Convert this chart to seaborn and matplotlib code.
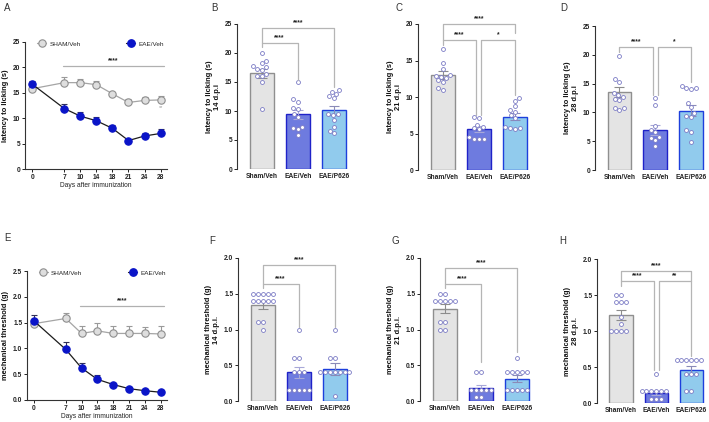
import numpy as np
import pandas as pd
import matplotlib
matplotlib.use('Agg')
import matplotlib.pyplot as plt
import seaborn as sns
from matplotlib.lines import Line2D
from matplotlib.ticker import FormatStrFormatter

# ---- time course data (A, E) ----
days = [0, 7, 10, 14, 18, 21, 24, 28]
day_pos = [0, 2, 3, 4, 5, 6, 7, 8]

lat_sham = [15.8, 17.0, 17.0, 16.6, 14.8, 13.1, 13.5, 13.6]
lat_sham_sem = [0.5, 1.1, 0.7, 0.8, 0.3, 0.7, 0.6, 0.7]
lat_eae = [16.7, 11.9, 10.4, 9.5, 8.0, 5.6, 6.5, 7.0]
lat_eae_sem = [0.7, 0.9, 0.8, 0.8, 0.6, 0.2, 0.6, 0.8]

mech_sham = [1.48, 1.58, 1.29, 1.34, 1.29, 1.29, 1.29, 1.28]
mech_sham_sem = [0.05, 0.10, 0.15, 0.16, 0.15, 0.15, 0.13, 0.16]
mech_eae = [1.53, 0.98, 0.62, 0.40, 0.30, 0.22, 0.18, 0.15]
mech_eae_sem = [0.12, 0.15, 0.09, 0.08, 0.03, 0.02, 0.02, 0.02]

# ---- bar data (B-D, F-H) ----
groups = ['Sham/Veh', 'EAE/Veh', 'EAE/P626']

b_means = [16.5, 9.4, 10.1]
b_sems = [0.8, 0.8, 0.8]
b_sham = [20.0, 18.6, 18.2, 17.8, 17.5, 17.3, 17.0, 16.4, 16.0, 16.1, 15.0, 10.3]
b_eae = [15.0, 12.0, 11.6, 10.6, 10.4, 9.4, 8.9, 7.2, 7.0, 6.9, 5.9]
b_p626 = [13.6, 13.3, 12.9, 12.5, 12.2, 9.5, 9.4, 9.3, 8.5, 7.3, 6.6, 6.2]

c_means = [13.0, 5.6, 7.3]
c_sems = [0.5, 0.4, 0.5]
c_sham = [16.6, 14.6, 13.9, 13.0, 12.9, 12.8, 12.6, 12.3, 12.1, 11.2, 11.0]
c_eae = [7.2, 7.1, 6.2, 5.9, 5.7, 5.6, 4.5, 4.3, 4.3, 4.2]
c_p626 = [9.8, 9.4, 8.7, 8.2, 8.0, 7.5, 7.1, 5.9, 5.8, 5.7, 5.6]

d_means = [13.5, 6.9, 10.3]
d_sems = [0.9, 0.9, 1.0]
d_sham = [19.8, 15.8, 15.3, 13.4, 13.0, 12.7, 12.3, 12.1, 10.7, 10.5, 10.7]
d_eae = [12.5, 11.2, 7.6, 7.0, 6.6, 5.8, 5.6, 5.2, 4.2]
d_p626 = [14.6, 14.3, 14.2, 14.0, 11.7, 11.0, 9.9, 9.4, 9.2, 6.9, 6.6, 4.9]

f_means = [1.34, 0.40, 0.45]
f_sems = [0.06, 0.08, 0.08]
f_sham = [1.5, 1.5, 1.5, 1.5, 1.5, 1.4, 1.4, 1.4, 1.4, 1.4, 1.1, 1.1, 1.0]
f_eae = [1.0, 0.6, 0.6, 0.4, 0.4, 0.4, 0.16, 0.16, 0.16, 0.16, 0.16]
f_p626 = [1.0, 0.6, 0.6, 0.4, 0.4, 0.4, 0.4, 0.4, 0.4, 0.4, 0.07]

g_means = [1.29, 0.18, 0.31]
g_sems = [0.06, 0.04, 0.05]
g_sham = [1.5, 1.5, 1.4, 1.4, 1.4, 1.4, 1.4, 1.1, 1.1, 1.0, 1.0]
g_eae = [0.4, 0.4, 0.16, 0.16, 0.16, 0.16, 0.16, 0.06, 0.06]
g_p626 = [0.6, 0.4, 0.4, 0.4, 0.4, 0.4, 0.16, 0.16, 0.16, 0.16, 0.16]

h_means = [1.22, 0.14, 0.46]
h_sems = [0.07, 0.03, 0.06]
h_sham = [1.5, 1.5, 1.4, 1.4, 1.4, 1.2, 1.1, 1.0, 1.0, 1.0, 1.0]
h_eae = [0.4, 0.16, 0.16, 0.16, 0.16, 0.16, 0.16, 0.06, 0.06, 0.06]
h_p626 = [0.6, 0.6, 0.6, 0.6, 0.6, 0.6, 0.4, 0.4, 0.4, 0.16, 0.16]

# brackets: (x_left, x_right, y, y_left_end, y_right_end, label)
b_brackets = [(0, 1, 21.8, 21.1, 15.3, '****'), (0, 2, 24.3, 21.8, 14.2, '****')]
c_brackets = [(0, 0.93, 17.8, 17.1, 7.5, '****'), (1.07, 2, 17.8, 7.5, 10.3, '*'),
              (0, 2, 20.0, 17.8, 18.7, '****')]
d_brackets = [(0, 0.93, 21.4, 20.5, 13.0, '****'), (1.07, 2, 21.4, 13.0, 15.3, '*')]
f_brackets = [(0, 1, 1.64, 1.58, 1.03, '****'), (0, 2, 1.90, 1.64, 1.03, '****')]
g_brackets = [(0, 1, 1.64, 1.58, 0.55, '****'), (0, 2, 1.86, 1.64, 0.69, '****')]
h_brackets = [(0, 0.93, 1.70, 1.63, 0.46, '****'), (1.07, 2, 1.70, 0.46, 0.65, '**'),
              (0, 2, 1.83, 1.70, 1.70, '****')]

bar_fill = ['#e4e4e4', '#5b6cf2', '#82cffc']
bar_edge = ['#8f8f8f', '#1f22c8', '#1d3fdc']
err_col = ['#8c8c8c', '#a8a8d8', '#8a8ab8']

sns.set_style('ticks')
plt.rcParams['font.family'] = ['Liberation Sans', 'DejaVu Sans']
plt.rcParams['axes.linewidth'] = 0.8

W, H = 709, 422
fig = plt.figure(figsize=(W / 100, H / 100), dpi=100)


def add_ax(x0, y0, x1, y1):
    return fig.add_axes([x0 / W, 1 - y1 / H, (x1 - x0) / W, (y1 - y0) / H])


def style_axis(ax, ylim, yticks, ylabel, fmt=None):
    ax.set_ylim(*ylim)
    ax.set_yticks(yticks)
    if fmt:
        ax.yaxis.set_major_formatter(FormatStrFormatter(fmt))
    ax.set_ylabel(ylabel, fontsize=5.4, fontweight='bold', labelpad=3, color='#111')
    ax.tick_params(axis='both', labelsize=4.8, width=0.7, length=2.2, pad=1.2, colors='#222')
    for lab in ax.get_yticklabels() + ax.get_xticklabels():
        lab.set_fontweight('bold')
    for s in ['left', 'bottom']:
        ax.spines[s].set_color('#333')
    sns.despine(ax=ax)


def bar_panel(ax, means, sems, sham, eae, p626, brackets, ylim, yticks, ylabel, fmt=None):
    sns.barplot(x=groups, y=means, hue=groups, palette=bar_fill, width=0.66,
                linewidth=1.0, legend=False, errorbar=None, ax=ax)
    for patch, ec in zip(ax.patches, bar_edge):
        patch.set_edgecolor(ec)
    for i, (m, s) in enumerate(zip(means, sems)):
        ax.errorbar(i, m, yerr=s, fmt='none', ecolor=err_col[i], elinewidth=0.8,
                    capsize=3.5, capthick=0.8, zorder=3)
    pts = pd.DataFrame({'group': ['Sham/Veh'] * len(sham) + ['EAE/Veh'] * len(eae)
                        + ['EAE/P626'] * len(p626),
                        'value': sham + eae + p626})
    sns.swarmplot(data=pts, x='group', y='value', order=groups, size=2.8, color='white',
                  edgecolor='#7a7ac4', linewidth=0.6, ax=ax, zorder=4)
    for x1, x2, y, yl, yr, lab in brackets:
        ax.plot([x1, x1, x2, x2], [yl, y, y, yr], color='#b5b5b5', lw=0.9,
                clip_on=False, zorder=5)
        ax.text((x1 + x2) / 2, y + (ylim[1] - ylim[0]) * 0.012, lab, ha='center', va='bottom',
                fontsize=4.8, fontweight='bold', color='#222')
    ax.set_xlim(-0.68, 2.5)
    ax.set_xlabel('')
    style_axis(ax, ylim, yticks, ylabel, fmt)
    ax.spines['bottom'].set_visible(False)
    ax.tick_params(axis='x', length=0, pad=3)


def line_panel(ax, sham, sham_sem, eae, eae_sem, ylim, yticks, ylabel, sig_x, sig_y, fmt=None):
    zeros = np.zeros(len(day_pos))
    ax.errorbar(day_pos, sham, yerr=[zeros, sham_sem], fmt='none', ecolor='#9a9a9a',
                elinewidth=0.8, capsize=2.2, capthick=0.8, zorder=2)
    ax.errorbar(day_pos, eae, yerr=[zeros, eae_sem], fmt='none', ecolor='#30305a',
                elinewidth=0.8, capsize=2.2, capthick=0.8, zorder=2)
    sns.lineplot(x=day_pos, y=sham, color='#a5a5a5', lw=0.9, marker='o', markersize=5.3,
                 markerfacecolor='#dedede', markeredgecolor='#8e8e8e', markeredgewidth=0.8,
                 ax=ax, zorder=3)
    sns.lineplot(x=day_pos, y=eae, color='#1c1c1c', lw=0.9, marker='o', markersize=5.3,
                 markerfacecolor='#0a14c8', markeredgecolor='#0a14c8', markeredgewidth=0.8,
                 ax=ax, zorder=4)
    ax.plot(sig_x, [sig_y, sig_y], color='#b0b0b0', lw=0.9, clip_on=False)
    ax.text(np.mean(sig_x), sig_y + (ylim[1] - ylim[0]) * 0.015, '****', ha='center',
            va='bottom', fontsize=4.8, fontweight='bold', color='#222')
    handles = [Line2D([], [], color='#a5a5a5', lw=0.9, marker='o', markersize=5.3,
                      mfc='#dedede', mec='#8e8e8e', mew=0.8),
               Line2D([], [], color='#1c1c1c', lw=0.9, marker='o', markersize=5.3,
                      mfc='#0a14c8', mec='#0a14c8')]
    ax.legend(handles, ['SHAM/Veh', 'EAE/Veh'], loc='center left', bbox_to_anchor=(0.085, 0.985),
              ncol=2, frameon=False, fontsize=4.6, handlelength=1.4, handletextpad=0.5,
              columnspacing=7.2, borderaxespad=0, borderpad=0)
    ax.set_xticks(day_pos)
    ax.set_xticklabels([str(d) for d in days])
    ax.set_xlim(-0.45, 8.4)
    ax.set_xlabel('Days after immunization', fontsize=4.8, labelpad=0.8, color='#222')
    style_axis(ax, ylim, yticks, ylabel, fmt)


# ---- panels ----
axA = add_ax(25, 42, 167, 169)
line_panel(axA, lat_sham, lat_sham_sem, lat_eae, lat_eae_sem, (0, 25), [0, 5, 10, 15, 20, 25],
           'latency to licking (s)', [1.93, 8.2], 20.2)
axA.text(day_pos[-1], 12.0, '**', ha='center', va='center', fontsize=4, color='#9a9a9a')

axE = add_ax(27, 271, 167, 400)
line_panel(axE, mech_sham, mech_sham_sem, mech_eae, mech_eae_sem, (0, 2.5),
           [0, 0.5, 1.0, 1.5, 2.0, 2.5], 'mechanical threshold (g)', [2.9, 8.2], 1.82, fmt='%.1f')

axB = add_ax(237, 24, 352, 169)
bar_panel(axB, b_means, b_sems, b_sham, b_eae, b_p626, b_brackets, (0, 25),
          [0, 5, 10, 15, 20, 25], 'latency to licking (s)\n14 d.p.i')
axC = add_ax(418, 24, 533, 170)
bar_panel(axC, c_means, c_sems, c_sham, c_eae, c_p626, c_brackets, (0, 20),
          [0, 5, 10, 15, 20], 'latency to licking (s)\n21 d.p.i')
axD = add_ax(595, 26, 709, 170)
bar_panel(axD, d_means, d_sems, d_sham, d_eae, d_p626, d_brackets, (0, 25),
          [0, 5, 10, 15, 20, 25], 'latency to licking (s)\n28 d.p.i')
axF = add_ax(238, 258, 353, 401)
bar_panel(axF, f_means, f_sems, f_sham, f_eae, f_p626, f_brackets, (0, 2.0),
          [0, 0.5, 1.0, 1.5, 2.0], 'mechanical threshold (g)\n14 d.p.i.', fmt='%.1f')
axG = add_ax(420, 258, 535, 401)
bar_panel(axG, g_means, g_sems, g_sham, g_eae, g_p626, g_brackets, (0, 2.0),
          [0, 0.5, 1.0, 1.5, 2.0], 'mechanical threshold (g)\n21 d.p.i.', fmt='%.1f')
axH = add_ax(597, 259, 709, 403)
bar_panel(axH, h_means, h_sems, h_sham, h_eae, h_p626, h_brackets, (0, 2.0),
          [0, 0.5, 1.0, 1.5, 2.0], 'mechanical threshold (g)\n28 d.p.i.', fmt='%.1f')

# panel letters
for letter, (px, py) in {'A': (4, 3), 'B': (211, 3), 'C': (395, 3), 'D': (560, 3),
                         'E': (4, 233), 'F': (209, 236), 'G': (392, 236), 'H': (559, 236)}.items():
    fig.text(px / W, 1 - py / H, letter, ha='left', va='top', fontsize=7, color='#333')

fig.savefig('out.png', dpi=100)
